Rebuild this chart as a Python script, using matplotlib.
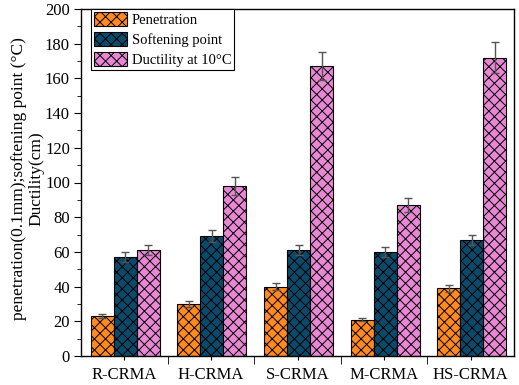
import matplotlib
matplotlib.use("Agg")
import matplotlib.pyplot as plt
import numpy as np
from matplotlib.ticker import MultipleLocator, FixedLocator

categories = ["R-CRMA", "H-CRMA", "S-CRMA", "M-CRMA", "HS-CRMA"]
penetration = [23, 30, 40, 21, 39]
penetration_err = [1, 1.5, 2, 1, 2]
softening = [57, 69, 61, 60, 67]
softening_err = [3, 3.5, 3, 3, 3]
ductility = [61, 98, 167, 87, 172]
ductility_err = [3, 5, 8, 4, 9]
series_names = ["Penetration", "Softening point", "Ductility at 10°C"]

plt.rcParams['font.family'] = ['Liberation Serif', 'DejaVu Serif']
plt.rcParams['hatch.linewidth'] = 0.7

fig = plt.figure(figsize=(5.19, 3.85), dpi=100)
ax = fig.add_axes([81/519, 1-356/385, (514-81)/519, (356-9)/385])

x = np.arange(1, len(categories)+1)
w = 0.266
colors = ["#FF8A1E", "#0C4A6B", "#E888D4"]
data = [(penetration, penetration_err), (softening, softening_err), (ductility, ductility_err)]
for i, ((vals, errs), c, name) in enumerate(zip(data, colors, series_names)):
    pos = x + (i-1)*w + 0.012
    ax.bar(pos, vals, width=w, color=c, edgecolor="black", linewidth=0.8,
           hatch="xxx", label=name, zorder=2)
    ax.errorbar(pos, vals, yerr=errs, fmt='none', ecolor="#555555",
                elinewidth=1.0, capsize=3, capthick=1.0, zorder=3)

ax.set_xlim(0.5, 5.5)
ax.set_ylim(0, 200)
ax.xaxis.set_major_locator(FixedLocator(x))
ax.xaxis.set_minor_locator(FixedLocator(np.arange(1.5, 5.5, 1)))
ax.set_xticklabels(categories, fontsize=12)
ax.yaxis.set_major_locator(MultipleLocator(20))
ax.yaxis.set_minor_locator(MultipleLocator(10))
ax.tick_params(axis='y', which='major', direction='out', length=5, labelsize=12, pad=3)
ax.tick_params(axis='y', which='minor', direction='out', length=3)
ax.tick_params(axis='x', which='major', direction='out', length=3, labelsize=12, pad=5)
ax.tick_params(axis='x', which='minor', direction='out', length=6)
for s in ax.spines.values():
    s.set_linewidth(1.0)

ax.set_ylabel("penetration(0.1mm);softening point (°C)\nDuctility(cm)", fontsize=12.5,
              linespacing=1.08)
ax.yaxis.set_label_coords(-0.085, 0.51)

leg = ax.legend(loc='upper left', bbox_to_anchor=(0.023, 1.0), fontsize=10.5,
                fancybox=False, edgecolor='black', framealpha=1,
                handlelength=2.3, handleheight=1.1, handletextpad=0.3,
                labelspacing=0.35, borderpad=0.2, borderaxespad=0.0)
leg.get_frame().set_linewidth(0.8)

fig.savefig("out.png", dpi=100)
